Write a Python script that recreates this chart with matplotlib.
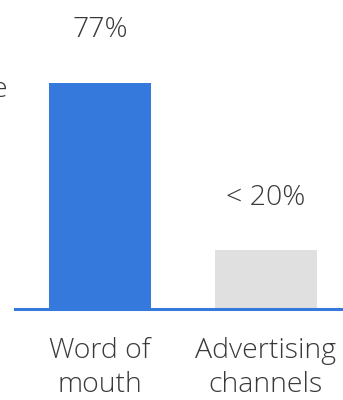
import matplotlib.pyplot as plt

categories = ['Word of\nmouth', 'Advertising\nchannels']
values = [77, 20]
value_labels = ['77%', '< 20%']
bar_colors = ['#3479DB', '#E0E0E0']

plt.rcParams['font.family'] = ['Open Sans', 'DejaVu Sans']
text_color = '#3a3a3a'
fs = 20.5

fig = plt.figure(figsize=(3.43, 4.0), dpi=100)
ax = fig.add_axes([15 / 343, 91 / 400, 328 / 343, 309 / 400])

x = list(range(len(values)))
ax.bar(x, values, width=0.614, color=bar_colors)
ax.set_xlim(-0.512, 1.464)
ax.set_ylim(0, 105.3)
ax.axhline(0, color='#3479DB', lw=2.2, clip_on=False)

for xi, v, lab in zip(x, values, value_labels):
    ax.annotate(lab, (xi, v), xytext=(0, 38), textcoords='offset points',
                ha='center', va='center', fontsize=fs, color=text_color,
                fontweight='light')

for xi, cat in zip(x, categories):
    ax.annotate(cat, (xi, 0), xytext=(0, -20), textcoords='offset points',
                ha='center', va='top', fontsize=fs, color=text_color,
                fontweight='light', linespacing=1.3)

# clipped word tail at the left edge
fig.text(-9 / 343, 1 - 90 / 400, 'e', ha='left', va='center',
         fontsize=fs, color=text_color, fontweight='light')

ax.axis('off')
fig.savefig('out.png', dpi=100)
